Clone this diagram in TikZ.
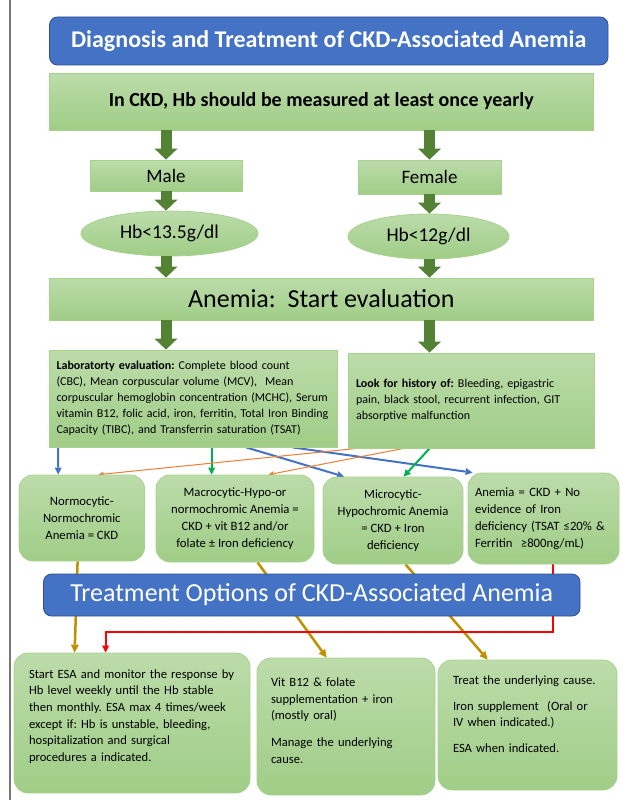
\documentclass[tikz,border=0pt]{standalone}
\usepackage{fontspec}
\setmainfont{Carlito}
\usetikzlibrary{shapes.geometric,arrows.meta,backgrounds}
\frenchspacing
\definecolor{titleblue}{RGB}{68,114,196}
\definecolor{titleedge}{RGB}{47,82,143}
\definecolor{boxtop}{RGB}{188,220,170}
\definecolor{boxbottom}{RGB}{160,205,135}
\definecolor{boxedge}{RGB}{169,209,142}
\definecolor{stemgreen}{RGB}{84,130,53}
\definecolor{linkblue}{RGB}{68,114,196}
\definecolor{linkgreen}{RGB}{0,176,80}
\definecolor{linkorange}{RGB}{237,125,49}
\definecolor{linkgold}{RGB}{191,144,0}
\definecolor{linkred}{RGB}{255,0,0}
\definecolor{margingray}{RGB}{118,118,118}
% invisible strut that pushes a box text upwards
\newcommand{\liftby}[1]{\rule[-#1]{0pt}{#1}}

\begin{document}
\begin{tikzpicture}[x=1pt, y=-1pt,
    greenbox/.style={draw=boxedge, line width=0.8pt, top color=boxtop, bottom color=boxbottom, inner sep=0pt},
    roundbox/.style={greenbox, rounded corners=14pt},
    bluebar/.style={draw=titleedge, line width=0.8pt, fill=titleblue, rounded corners=8pt, text=white, inner sep=0pt},
    rowtext/.style={font={\fontsize{12.7}{17}\selectfont}},
    smalltext/.style={font={\fontsize{12}{16}\selectfont}},
    treattext/.style={font={\fontsize{12.6}{16.7}\selectfont}},
    fatarrow/.style={stemgreen, line width=11pt, -{Triangle[width=23pt,length=11pt,line width=0pt]}},
    link/.style={line width=2pt, -{Triangle[width=7pt,length=7pt,line width=0pt]}},
    thinlink/.style={linkorange, line width=1pt, -{Triangle[width=5pt,length=5pt,line width=0pt]}},
    goldlink/.style={linkgold, line width=2.5pt, -{Triangle[width=8pt,length=8pt,line width=0pt]}}]
    \useasboundingbox (0,0) rectangle (621,800);
    \draw[margingray, line width=1.5pt] (10,0) -- (10,800);

    % Top: title and screening
    \node[bluebar, minimum width=558.5pt, minimum height=48pt, font={\bfseries\fontsize{24}{28}\selectfont}] (TITLE) at (328.75,41) {
        Diagnosis and Treatment of CKD-Associated Anemia
    };
    \node[greenbox, minimum width=543.5pt, minimum height=57pt, font={\bfseries\fontsize{20}{24}\selectfont}] (MEAS) at (321.25,101.5) {
        In CKD, Hb should be measured at least once yearly
    };

    % Sex-specific thresholds
    \node[greenbox, minimum width=152pt, minimum height=31pt, font={\fontsize{19}{23}\selectfont}] (MALE) at (166,175.5) {Male};
    \node[greenbox, minimum width=143pt, minimum height=34pt, font={\fontsize{19}{23}\selectfont}] (FEMALE) at (429.5,177) {Female};
    \node[greenbox, ellipse, minimum width=177pt, minimum height=45pt, font={\fontsize{19.5}{23}\selectfont}] (HBM) at (169.5,233.5) {Hb<13.5g/dl};
    \node[greenbox, ellipse, minimum width=161pt, minimum height=45pt, font={\fontsize{19.5}{23}\selectfont}] (HBF) at (428.5,236.5) {Hb<12g/dl};

    \node[greenbox, minimum width=543.5pt, minimum height=42pt, font={\fontsize{26}{30}\selectfont}] (ANEMIA) at (321.25,299) {
        Anemia:~ Start evaluation
    };

    % Evaluation
    \node[greenbox, smalltext, minimum width=287.5pt, minimum height=97pt, inner xsep=7pt, text width=273.5pt, align=left] (LAB) at (193.25,398.5) {
        \textbf{Laboratorty evaluation:} Complete blood count\\
        (CBC), Mean corpuscular volume (MCV),~ Mean\\
        corpuscular hemoglobin concentration (MCHC), Serum\\
        vitamin B12, folic acid, iron, ferritin, Total Iron Binding\\
        Capacity (TIBC), and Transferrin saturation (TSAT)
    };
    \node[greenbox, smalltext, minimum width=246pt, minimum height=95pt, inner xsep=8pt, text width=230pt, align=left] (HIST) at (471,400.5) {
        \textbf{Look for history of:} Bleeding, epigastric\\
        pain, black stool, recurrent infection, GIT\\
        absorptive malfunction
    };

    % Anemia types
    \node[roundbox, rowtext, minimum width=125.6pt, minimum height=86pt, align=center] (NORMO) at (81.8,518) {
        Normocytic-\\ Normochromic\\ Anemia = CKD
    };
    \node[roundbox, rowtext, minimum width=158pt, minimum height=87pt, align=center] (MACRO) at (235,518.5) {
        Macrocytic-Hypo-or\\ normochromic Anemia =\\ CKD + vit B12 and/or\\ folate ± Iron deficiency
    };
    \node[roundbox, rowtext, minimum width=140pt, minimum height=87pt, align=center] (MICRO) at (393,520.5) {
        Microcytic-\\ Hypochromic Anemia\\ = CKD + Iron\\ deficiency
    };
    \node[roundbox, rowtext, minimum width=151pt, minimum height=91pt, inner xsep=7pt, text width=137pt, align=left] (NOIRON) at (543.5,518.5) {
        Anemia = CKD + No\\ evidence of Iron\\ deficiency (TSAT ≤20\% \&\\ Ferritin~ ≥800ng/mL)
    };

    % Treatment
    \node[bluebar, minimum width=536.5pt, minimum height=42pt, font={\fontsize{26}{30}\selectfont}] (TREAT) at (311.75,595) {
        Treatment Options of CKD-Associated Anemia
    };
    \node[roundbox, treattext, minimum width=236pt, minimum height=140pt, inner xsep=15pt, text width=206pt, align=left] (ESA) at (132,723) {
        Start ESA and monitor the response by\\
        Hb level weekly until the Hb stable\\
        then monthly. ESA max 4 times/week\\
        except if: Hb is unstable, bleeding,\\
        hospitalization and surgical\\
        procedures a indicated.\liftby{15pt}
    };
    \node[roundbox, treattext, minimum width=178pt, minimum height=137pt, inner xsep=14pt, text width=150pt, align=left] (VITB) at (346,726.5) {
        Vit B12 \& folate\\
        supplementation + iron\\
        (mostly oral)\\[10pt]
        Manage the underlying\\
        cause.\liftby{12pt}
    };
    \node[roundbox, treattext, minimum width=179pt, minimum height=130pt, inner xsep=15pt, text width=149pt, align=left] (IRON) at (527.5,725) {
        Treat the underlying cause.\\[9pt]
        Iron supplement~ (Oral or\\
        IV when indicated.)\\[9pt]
        ESA when indicated.\liftby{22pt}
    };

    % Connectors
    \draw[fatarrow] (MEAS.south -| MALE) -- (MALE.north);
    \draw[fatarrow] (MEAS.south -| FEMALE) -- (FEMALE.north);
    \draw[fatarrow] (MALE.south) -- (HBM.north -| MALE);
    \draw[fatarrow] (FEMALE.south) -- (HBF.north -| FEMALE);
    \draw[fatarrow] (HBM.south -| MALE) -- (ANEMIA.north -| MALE);
    \draw[fatarrow] (HBF.south -| FEMALE) -- (ANEMIA.north -| FEMALE);
    \draw[fatarrow] (ANEMIA.south -| MALE) -- (LAB.north -| MALE);
    \draw[fatarrow] (ANEMIA.south -| FEMALE) -- (HIST.north -| FEMALE);

    \begin{scope}[on background layer]
        \draw[link, linkblue] ([xshift=9pt]LAB.south west) -- ([xshift=39.6pt]NORMO.north west);
        \draw[link, linkgreen] ([xshift=162.5pt]LAB.south west) -- ([xshift=56pt]MACRO.north west);
        \draw[link, linkblue] ([xshift=197pt]LAB.south west) -- ([xshift=21.5pt]MICRO.north west);
        \draw[link, linkblue] ([xshift=243.5pt]LAB.south west) -- ([xshift=5pt]NOIRON.north west);
        \draw[thinlink] ([xshift=9.6pt]HIST.south west) -- ([xshift=80pt]NORMO.north west);
        \draw[thinlink] ([xshift=56pt]HIST.south west) -- ([xshift=113pt]MACRO.north west);
        \draw[link, linkgreen] ([xshift=82pt]HIST.south west) -- ([xshift=81pt]MICRO.north west);

        \draw[goldlink] ([xshift=59pt]NORMO.south west) -- ([xshift=61pt]ESA.north west);
        \draw[goldlink] ([xshift=102pt]MACRO.south west) -- ([xshift=70pt]VITB.north west);
        \draw[goldlink] ([xshift=83pt]MICRO.south west) -- ([xshift=50pt]IRON.north west);
        \draw[link, linkred] ([xshift=85.6pt]NOIRON.south west) -- ++(0,68) -| ([xshift=92pt]ESA.north west);
    \end{scope}
\end{tikzpicture}
\end{document}
